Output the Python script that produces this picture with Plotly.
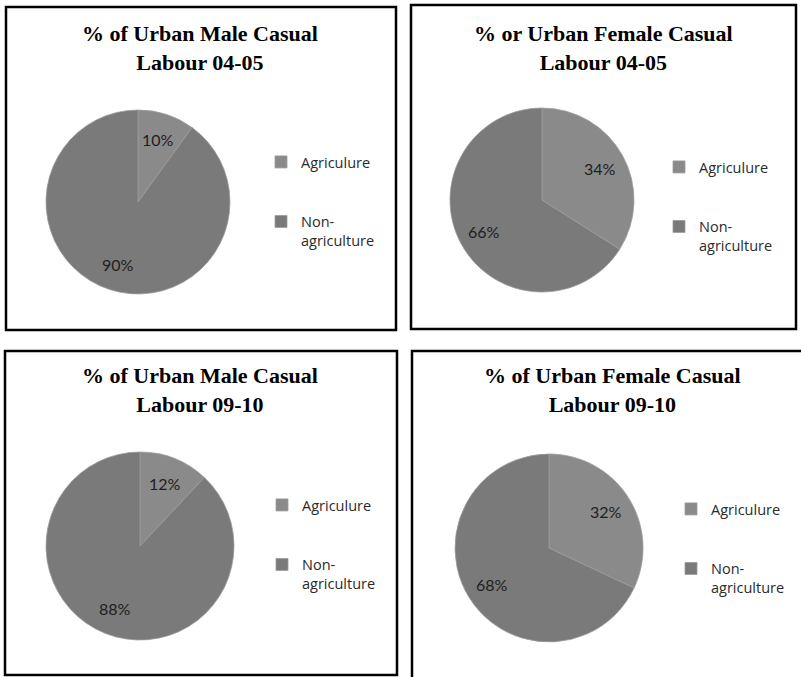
import math
import plotly.graph_objects as go

W, H = 801, 677

categories = ["Agriculure", "Non-agriculture"]
legend_labels = ["Agriculure<br> <br> ", "Non-<br>agriculture"]

titles = [
    "% of Urban Male Casual<br>Labour 04-05",
    "% or Urban Female Casual<br>Labour 04-05",
    "% of Urban Male Casual<br>Labour 09-10",
    "% of Urban Female Casual<br>Labour 09-10",
]
male_04_05 = [10, 90]
female_04_05 = [34, 66]
male_09_10 = [12, 88]
female_09_10 = [32, 68]
series = [male_04_05, female_04_05, male_09_10, female_09_10]

colors = ["#8a8a8a", "#7a7a7a"]

# layout (pixels)
pie_centers = [(138, 202), (542, 200), (140, 546), (549, 548)]
pie_radii = [92, 92, 94, 94]
title_centers = [(200, 48), (603, 48), (200, 390), (612, 390)]
legend_pos = [(261, 146), (659, 151), (262, 489), (671, 493)]
panels = [(6, 7, 396, 330), (411, 5, 796, 329), (5, 351, 397, 675), (412, 351, 804, 682)]
legend_names = ["legend", "legend2", "legend3", "legend4"]

def px(x):
    return x / W

def py(y):
    return 1 - y / H

fig = go.Figure()
annotations = []
shapes = []
legends = {}

for i, vals in enumerate(series):
    cx, cy = pie_centers[i]
    r = pie_radii[i]
    # zero-width spaces keep each chart's legend entries distinct
    labels_i = [lab + "\u200b" * i for lab in legend_labels]
    fig.add_trace(go.Pie(
        labels=labels_i,
        values=vals,
        sort=False,
        direction="clockwise",
        rotation=0,
        textinfo="none",
        hoverinfo="percent",
        marker=dict(colors=colors, line=dict(color="#9c9c9c", width=0.8)),
        domain=dict(x=[px(cx - r), px(cx + r)], y=[py(cy + r), py(cy - r)]),
        legend=legend_names[i],
        showlegend=True,
    ))
    # percentage labels along slice bisectors
    total = sum(vals)
    start = 0.0
    for v in vals:
        frac = v / total
        mid = (start + frac / 2) * 2 * math.pi
        start += frac
        lx = cx + 0.72 * r * math.sin(mid)
        ly = cy - 0.72 * r * math.cos(mid)
        annotations.append(dict(
            x=px(lx), y=py(ly), xref="paper", yref="paper",
            text=f"{round(frac * 100)}%", showarrow=False,
            font=dict(family="Lato", size=16, color="#1e1e1e"),
            xanchor="center", yanchor="middle",
        ))
    tx, ty = title_centers[i]
    annotations.append(dict(
        x=px(tx), y=py(ty), xref="paper", yref="paper",
        text=f"<b>{titles[i]}</b>", showarrow=False,
        font=dict(family="Liberation Serif", size=22, color="#000000"),
        xanchor="center", yanchor="middle", align="center",
    ))
    lx0, ly0 = legend_pos[i]
    legends[legend_names[i]] = dict(
        x=px(lx0), y=py(ly0), xanchor="left", yanchor="top",
        xref="paper", yref="paper",
        bgcolor="rgba(0,0,0,0)", borderwidth=0,
        font=dict(family="Open Sans", size=14.5, color="#2a2a2a"),
        valign="top", itemclick=False, itemdoubleclick=False,
    )
    x0, y0, x1, y1 = panels[i]
    shapes.append(dict(
        type="rect", xref="paper", yref="paper",
        x0=px(x0), x1=px(x1), y0=py(y1), y1=py(y0),
        line=dict(color="#000000", width=2.5), fillcolor="rgba(0,0,0,0)",
        layer="below",
    ))

fig.update_layout(
    width=W, height=H, autosize=False,
    margin=dict(l=0, r=0, t=0, b=0),
    paper_bgcolor="#ffffff", plot_bgcolor="#ffffff",
    annotations=annotations, shapes=shapes,
    **legends,
)

fig.write_html("out.html")
